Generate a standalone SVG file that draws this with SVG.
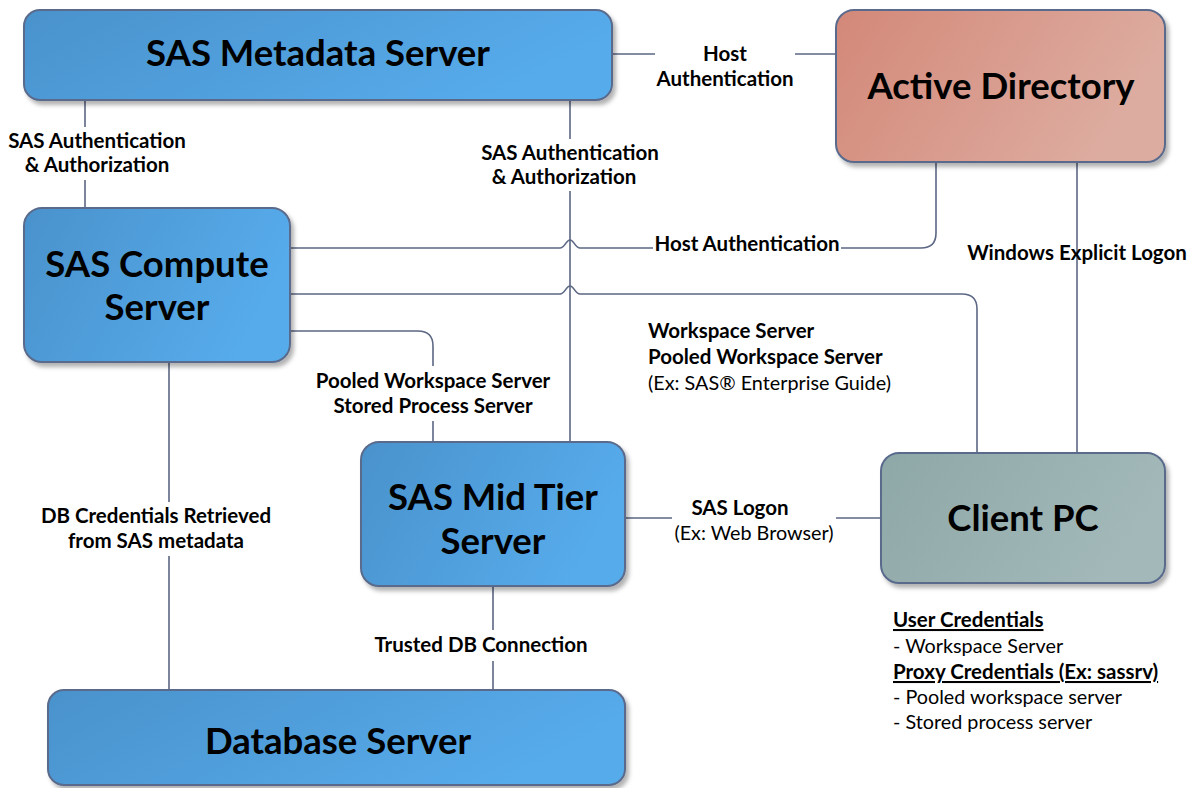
<svg xmlns="http://www.w3.org/2000/svg" width="1194" height="788" viewBox="0 0 1194 788">
<style>
.box{stroke:#5a6b8c;stroke-width:2;filter:url(#sh)}
.blue{fill:url(#gBlue)}
.red{fill:url(#gRed)}
.gray{fill:url(#gGray)}
.title{font-family:Lato,"Open Sans",sans-serif;font-weight:bold;font-size:36.5px;fill:#000;text-anchor:middle}
.lbl{font-family:Lato,"Open Sans",sans-serif;font-weight:bold;font-size:20.5px;fill:#000}
.reg{font-family:Lato,"Open Sans",sans-serif;font-weight:normal;font-size:19.8px;fill:#000}
.mid{text-anchor:middle}
.conn{fill:none;stroke:#5c6784;stroke-width:1.6}
</style>
<defs>
<linearGradient id="gBlue" x1="0" y1="0" x2="1" y2="0.3">
<stop offset="0" stop-color="#4a92cc"/>
<stop offset="1" stop-color="#56abeb"/>
</linearGradient>
<linearGradient id="gRed" x1="0" y1="0" x2="1" y2="0.3">
<stop offset="0" stop-color="#d38878"/>
<stop offset="1" stop-color="#ddaca0"/>
</linearGradient>
<linearGradient id="gGray" x1="0" y1="0" x2="1" y2="0.3">
<stop offset="0" stop-color="#8ea7a7"/>
<stop offset="1" stop-color="#a3b9b9"/>
</linearGradient>
<filter id="sh" x="-5%" y="-5%" width="115%" height="125%">
<feDropShadow dx="3" dy="4" stdDeviation="2" flood-color="#000" flood-opacity="0.3"/>
</filter>
</defs>

<g id="connectors">
<path class="conn" d="M612,54 H655 M795,54 H836"/>
<path class="conn" d="M85,100 V127 M85,180 V208"/>
<path class="conn" d="M570,100 V139 M570,191 V442"/>
<path class="conn" d="M290,248 H560 C565,248 566,240 570,240 C574,240 575,248 580,248 H653 M841,248 H921 Q936,248 936,233 V162"/>
<path class="conn" d="M290,294 H560 C565,294 566,286 570,286 C574,286 575,294 580,294 H962 Q977,294 977,309 V453"/>
<path class="conn" d="M290,331 H418 Q433,331 433,346 V366 M433,421 V442"/>
<path class="conn" d="M169,362 V502 M169,556 V690"/>
<path class="conn" d="M493,586 V630 M493,661 V690"/>
<path class="conn" d="M625,518 H672 M836,518 H881"/>
<path class="conn" d="M1077,162 V453"/>
</g>

<g id="metadata-server">
<rect class="box blue" x="24" y="10" width="588" height="90" rx="16"/>
<text class="title" x="318" y="66">SAS Metadata Server</text>
</g>

<g id="active-directory">
<rect class="box red" x="836" y="10" width="329" height="152" rx="18"/>
<text class="title" x="1001" y="99">Active Directory</text>
</g>

<g id="compute-server">
<rect class="box blue" x="24" y="208" width="266" height="154" rx="18"/>
<text class="title" x="157" y="277">SAS Compute</text>
<text class="title" x="157" y="320">Server</text>
</g>

<g id="mid-tier-server">
<rect class="box blue" x="361" y="442" width="264" height="144" rx="18"/>
<text class="title" x="493" y="510">SAS Mid Tier</text>
<text class="title" x="493" y="554">Server</text>
</g>

<g id="client-pc">
<rect class="box gray" x="881" y="453" width="284" height="130" rx="18"/>
<text class="title" x="1023" y="531">Client PC</text>
</g>

<g id="database-server">
<rect class="box blue" x="48" y="690" width="577" height="95" rx="16"/>
<text class="title" x="338" y="754">Database Server</text>
</g>

<g id="labels">
<text class="lbl mid" x="725" y="61">Host</text>
<text class="lbl mid" x="725" y="86">Authentication</text>
<text class="lbl mid" x="97" y="148">SAS Authentication</text>
<text class="lbl mid" x="97" y="172">&amp; Authorization</text>
<text class="lbl mid" x="570" y="160">SAS Authentication</text>
<text class="lbl mid" x="564" y="184">&amp; Authorization</text>
<text class="lbl mid" x="747" y="251">Host Authentication</text>
<text class="lbl mid" x="1077" y="260">Windows Explicit Logon</text>
<text class="lbl" x="648" y="338">Workspace Server</text>
<text class="lbl" x="648" y="364">Pooled Workspace Server</text>
<text class="reg" x="648" y="390">(Ex: SAS® Enterprise Guide)</text>
<text class="lbl mid" x="433" y="388">Pooled Workspace Server</text>
<text class="lbl mid" x="433" y="413">Stored Process Server</text>
<text class="lbl mid" x="156" y="523">DB Credentials Retrieved</text>
<text class="lbl mid" x="156" y="548">from SAS metadata</text>
<text class="lbl mid" x="740" y="515">SAS Logon</text>
<text class="reg mid" x="754" y="540">(Ex: Web Browser)</text>
<text class="lbl mid" x="481" y="652">Trusted DB Connection</text>
</g>

<g id="credentials-note">
<text class="lbl" x="893" y="627" text-decoration="underline">User Credentials</text>
<text class="reg" x="893" y="653">- Workspace Server</text>
<text class="lbl" x="893" y="679" text-decoration="underline">Proxy Credentials (Ex: sassrv)</text>
<text class="reg" x="893" y="704">- Pooled workspace server</text>
<text class="reg" x="893" y="729">- Stored process server</text>
</g>
</svg>
